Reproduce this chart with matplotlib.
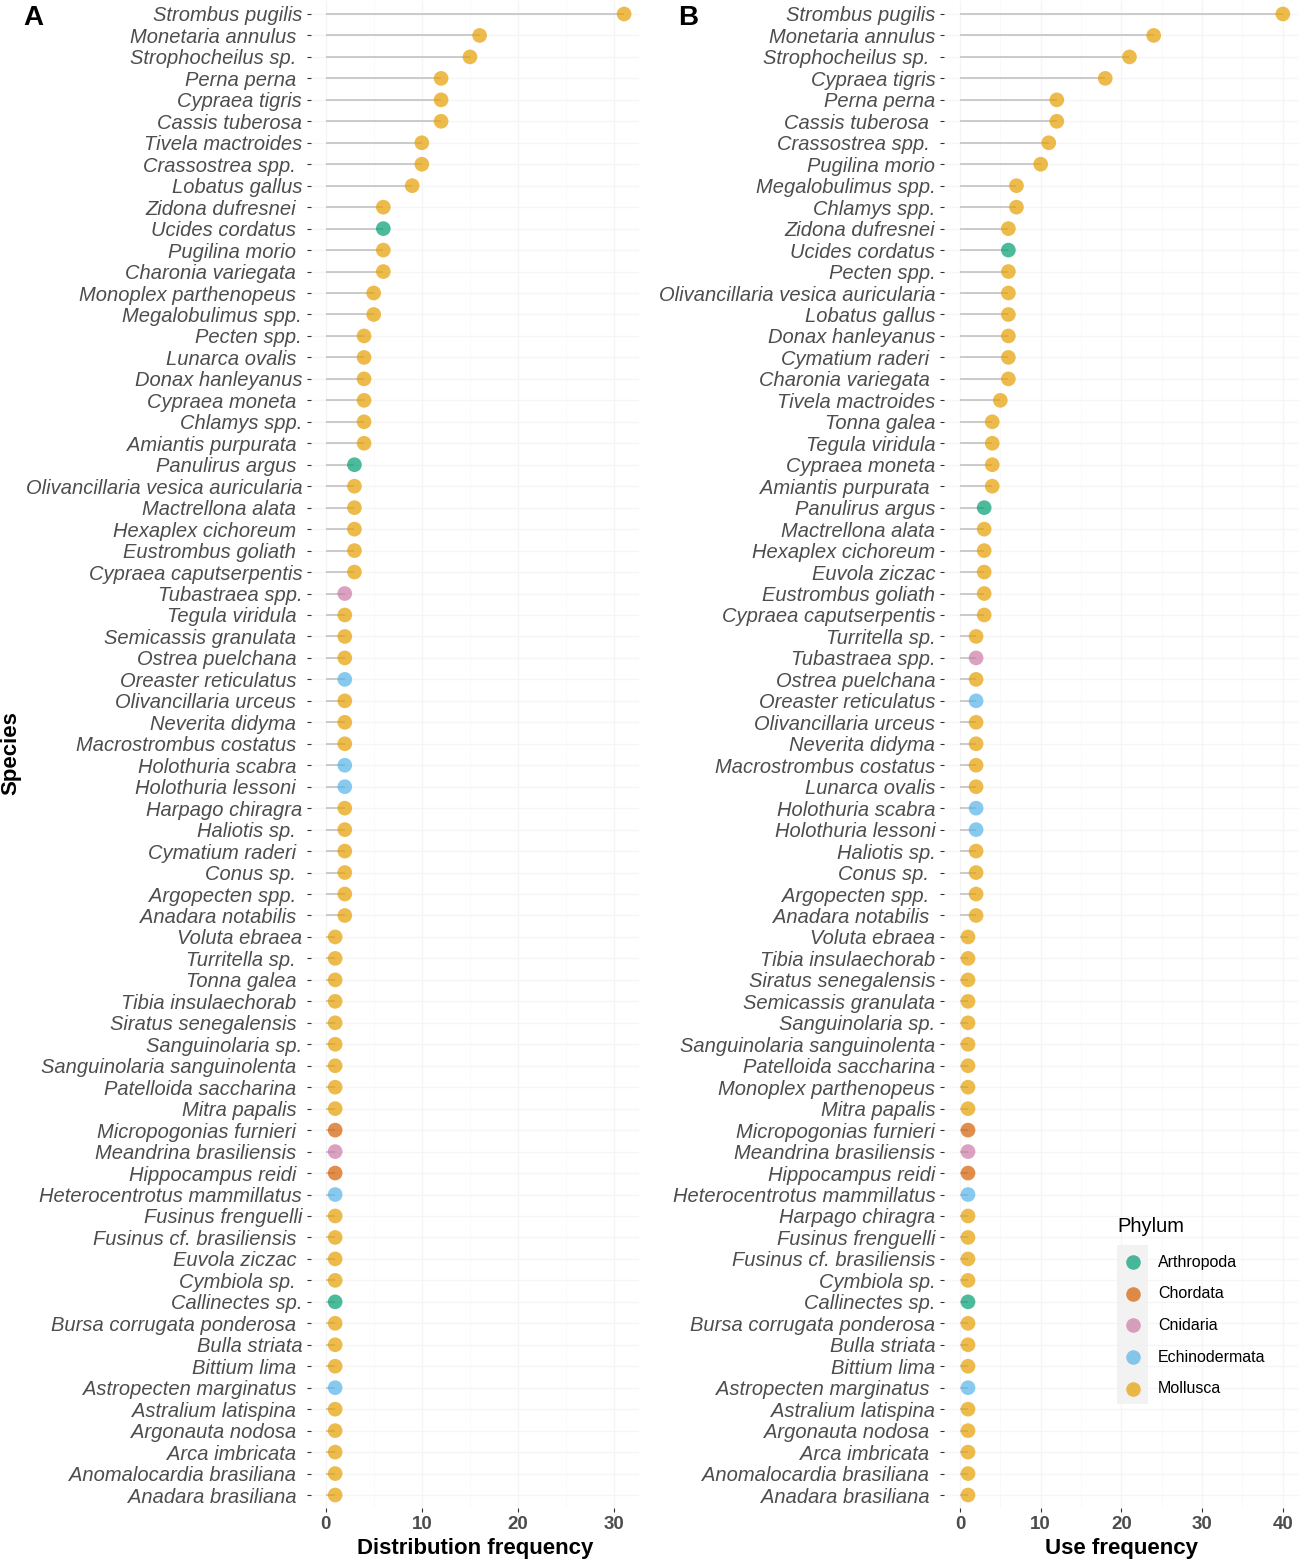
import numpy as np
import matplotlib
matplotlib.use("Agg")
import matplotlib.pyplot as plt
from matplotlib.lines import Line2D
from matplotlib.patches import Rectangle

plt.rcParams['font.family'] = ['Liberation Sans', 'DejaVu Sans']

# ---------------- data ----------------
# trailing space in a name = the extra gap seen in the original labels
species_a = [
    'Strombus pugilis', 'Monetaria annulus ', 'Strophocheilus sp. ', 'Perna perna ',
    'Cypraea tigris', 'Cassis tuberosa', 'Tivela mactroides', 'Crassostrea spp. ',
    'Lobatus gallus', 'Zidona dufresnei ', 'Ucides cordatus ', 'Pugilina morio ',
    'Charonia variegata ', 'Monoplex parthenopeus ', 'Megalobulimus spp.', 'Pecten spp.',
    'Lunarca ovalis ', 'Donax hanleyanus', 'Cypraea moneta ', 'Chlamys spp.',
    'Amiantis purpurata ', 'Panulirus argus ', 'Olivancillaria vesica auricularia',
    'Mactrellona alata ', 'Hexaplex cichoreum ', 'Eustrombus goliath ',
    'Cypraea caputserpentis', 'Tubastraea spp.', 'Tegula viridula ',
    'Semicassis granulata ', 'Ostrea puelchana ', 'Oreaster reticulatus ',
    'Olivancillaria urceus ', 'Neverita didyma ', 'Macrostrombus costatus ',
    'Holothuria scabra ', 'Holothuria lessoni ', 'Harpago chiragra', 'Haliotis sp. ',
    'Cymatium raderi ', 'Conus sp. ', 'Argopecten spp. ', 'Anadara notabilis ',
    'Voluta ebraea', 'Turritella sp. ', 'Tonna galea ', 'Tibia insulaechorab ',
    'Siratus senegalensis ', 'Sanguinolaria sp.', 'Sanguinolaria sanguinolenta ',
    'Patelloida saccharina ', 'Mitra papalis ', 'Micropogonias furnieri ',
    'Meandrina brasiliensis ', 'Hippocampus reidi ', 'Heterocentrotus mammillatus',
    'Fusinus frenguelli', 'Fusinus cf. brasiliensis ', 'Euvola ziczac ', 'Cymbiola sp. ',
    'Callinectes sp.', 'Bursa corrugata ponderosa ', 'Bulla striata', 'Bittium lima ',
    'Astropecten marginatus ', 'Astralium latispina ', 'Argonauta nodosa ',
    'Arca imbricata ', 'Anomalocardia brasiliana ', 'Anadara brasiliana ',
]
dist_freq = [31, 16, 15, 12, 12, 12, 10, 10, 9, 6, 6, 6, 6, 5, 5, 4, 4, 4, 4, 4, 4,
             3, 3, 3, 3, 3, 3, 2, 2, 2, 2, 2, 2, 2, 2, 2, 2, 2, 2, 2, 2, 2, 2,
             1, 1, 1, 1, 1, 1, 1, 1, 1, 1, 1, 1, 1, 1, 1, 1, 1, 1, 1, 1, 1, 1,
             1, 1, 1, 1, 1]

species_b = [
    'Strombus pugilis', 'Monetaria annulus', 'Strophocheilus sp. ', 'Cypraea tigris',
    'Perna perna', 'Cassis tuberosa ', 'Crassostrea spp. ', 'Pugilina morio',
    'Megalobulimus spp.', 'Chlamys spp.', 'Zidona dufresnei', 'Ucides cordatus',
    'Pecten spp.', 'Olivancillaria vesica auricularia', 'Lobatus gallus',
    'Donax hanleyanus', 'Cymatium raderi ', 'Charonia variegata ', 'Tivela mactroides',
    'Tonna galea', 'Tegula viridula', 'Cypraea moneta', 'Amiantis purpurata ',
    'Panulirus argus', 'Mactrellona alata', 'Hexaplex cichoreum', 'Euvola ziczac',
    'Eustrombus goliath', 'Cypraea caputserpentis', 'Turritella sp.', 'Tubastraea spp.',
    'Ostrea puelchana', 'Oreaster reticulatus', 'Olivancillaria urceus',
    'Neverita didyma', 'Macrostrombus costatus', 'Lunarca ovalis', 'Holothuria scabra',
    'Holothuria lessoni', 'Haliotis sp.', 'Conus sp. ', 'Argopecten spp. ',
    'Anadara notabilis ', 'Voluta ebraea', 'Tibia insulaechorab', 'Siratus senegalensis',
    'Semicassis granulata', 'Sanguinolaria sp.', 'Sanguinolaria sanguinolenta',
    'Patelloida saccharina', 'Monoplex parthenopeus', 'Mitra papalis',
    'Micropogonias furnieri', 'Meandrina brasiliensis', 'Hippocampus reidi',
    'Heterocentrotus mammillatus', 'Harpago chiragra', 'Fusinus frenguelli',
    'Fusinus cf. brasiliensis', 'Cymbiola sp.', 'Callinectes sp.',
    'Bursa corrugata ponderosa', 'Bulla striata', 'Bittium lima',
    'Astropecten marginatus ', 'Astralium latispina', 'Argonauta nodosa ',
    'Arca imbricata ', 'Anomalocardia brasiliana ', 'Anadara brasiliana ',
]
use_freq = [40, 24, 21, 18, 12, 12, 11, 10, 7, 7, 6, 6, 6, 6, 6, 6, 6, 6, 5,
            4, 4, 4, 4, 3, 3, 3, 3, 3, 3, 2, 2, 2, 2, 2, 2, 2, 2, 2, 2, 2, 2, 2, 2,
            1, 1, 1, 1, 1, 1, 1, 1, 1, 1, 1, 1, 1, 1, 1, 1, 1, 1, 1, 1, 1, 1,
            1, 1, 1, 1, 1]

# everything not listed here is Mollusca
phylum_of = {
    'Ucides cordatus': 'Arthropoda', 'Panulirus argus': 'Arthropoda',
    'Callinectes sp.': 'Arthropoda',
    'Micropogonias furnieri': 'Chordata', 'Hippocampus reidi': 'Chordata',
    'Tubastraea spp.': 'Cnidaria', 'Meandrina brasiliensis': 'Cnidaria',
    'Oreaster reticulatus': 'Echinodermata', 'Holothuria scabra': 'Echinodermata',
    'Holothuria lessoni': 'Echinodermata', 'Heterocentrotus mammillatus': 'Echinodermata',
    'Astropecten marginatus': 'Echinodermata',
}
phyla = ['Arthropoda', 'Chordata', 'Cnidaria', 'Echinodermata', 'Mollusca']
phylum_colors = ['#009E73', '#D55E00', '#CC79A7', '#56B4E9', '#E69F00']
color_of = dict(zip(phyla, phylum_colors))

W, H = 1299, 1562
GREY_TXT = '#4D4D4D'


def lollipop(ax, names, values, xmax, xticks, xlabel):
    n = len(names)
    y = np.arange(n)[::-1]
    labels = [s.rstrip() for s in names]
    cols = [color_of[phylum_of.get(s, 'Mollusca')] for s in labels]

    ax.hlines(y, 0, values, color='#BEBEBE', lw=1.1, zorder=2)
    ax.scatter(values, y, s=112, c=cols, alpha=0.7, edgecolors='none', zorder=3)

    ax.set_yticks(y)
    ax.set_yticklabels(labels, fontsize=14.5, style='italic', color=GREY_TXT)
    for tick, s in zip(ax.yaxis.get_major_ticks(), names):
        tick.set_pad(7.6 if s.endswith(' ') else 3.3)

    ax.set_xticks(xticks)
    ax.set_xticks([t + 5 for t in xticks], minor=True)
    ax.set_xticklabels([str(t) for t in xticks], fontsize=13.5, fontweight='bold',
                       color=GREY_TXT)
    # limits after the ticks, ggplot-like 5% padding
    ax.set_xlim(-0.05 * xmax, 1.05 * xmax)
    ax.set_ylim(-0.6, n - 0.4)

    ax.tick_params(axis='both', which='major', length=2.75, width=0.8, color='#333333')
    ax.tick_params(axis='x', which='major', pad=3)
    ax.tick_params(axis='x', which='minor', length=0)

    ax.grid(True, which='major', color='#F5F5F5', lw=1.0, zorder=0)
    ax.grid(True, which='minor', axis='x', color='#F8F8F8', lw=0.6, zorder=0)
    ax.set_axisbelow(True)
    for sp in ax.spines.values():
        sp.set_visible(False)
    ax.set_xlabel(xlabel, fontsize=16, fontweight='bold', labelpad=4)


fig = plt.figure(figsize=(W / 100, H / 100), dpi=100)

top_px, bot_px = 1.1, 1507.9
ax_a = fig.add_axes([310.6 / W, 1 - bot_px / H, (639.0 - 310.6) / W, (bot_px - top_px) / H])
ax_b = fig.add_axes([943.8 / W, 1 - bot_px / H, (1299.0 - 943.8) / W, (bot_px - top_px) / H])

lollipop(ax_a, species_a, dist_freq, 31, [0, 10, 20, 30], 'Distribution frequency')
lollipop(ax_b, species_b, use_freq, 40, [0, 10, 20, 30, 40], 'Use frequency')

# panel tags and shared y title
fig.text(33 / W, 1 - 18 / H, 'A', fontsize=20, fontweight='bold', ha='center', va='center')
fig.text(688 / W, 1 - 18 / H, 'B', fontsize=20, fontweight='bold', ha='center', va='center')
fig.text(11 / W, 1 - 753 / H, 'Species', fontsize=16, fontweight='bold', rotation=90,
         ha='center', va='center')

# legend (ggplot style, grey key column)
fig.text(1117 / W, 1 - 1227 / H, 'Phylum', fontsize=14.5, ha='left', va='center')
fig.add_artist(Rectangle((1117 / W, 1 - 1404 / H), 31 / W, 159 / H,
                         transform=fig.transFigure, facecolor='#F2F2F2', edgecolor='none'))
for i, (name, col) in enumerate(zip(phyla, phylum_colors)):
    yy = 1 - (1262 + 31.7 * i) / H
    fig.add_artist(Line2D([1132.5 / W], [yy], marker='o', markersize=10.5, color=col,
                          alpha=0.7, markeredgewidth=0, linestyle='none',
                          transform=fig.transFigure))
    fig.text(1158 / W, yy, name, fontsize=11.5, ha='left', va='center')

fig.savefig('out.png', dpi=100)
